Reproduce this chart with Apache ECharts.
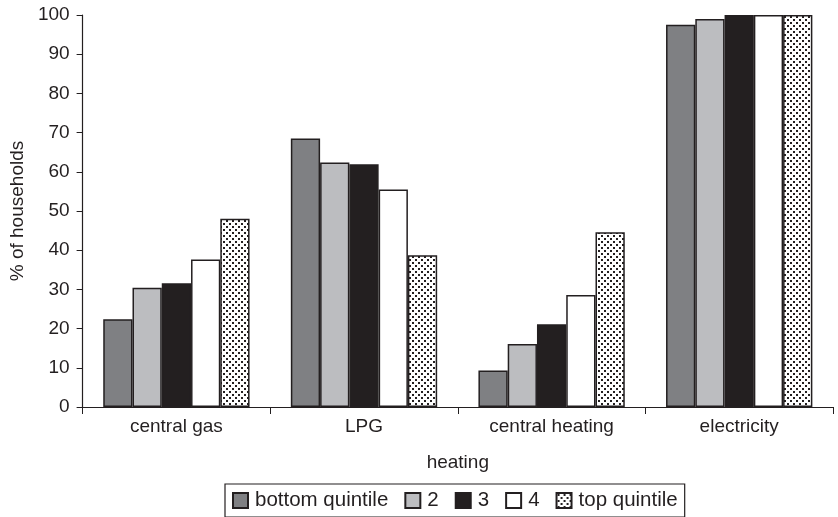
<!DOCTYPE html>
<html><head><meta charset="utf-8">
<script src="https://cdn.jsdelivr.net/npm/echarts@6/dist/echarts.min.js"></script>
<style>html,body{margin:0;padding:0;background:#fff}#c{width:838px;height:517px}</style>
</head><body><div id="c"></div>
<script>
const categories = ['central gas', 'LPG', 'central heating', 'electricity'];
const seriesNames = ['bottom quintile', '2', '3', '4', 'top quintile'];
const bottomQuintile = [22.4, 68.5, 9.3, 97.5];
const q2 = [30.4, 62.4, 16.1, 99];
const q3 = [31.6, 61.9, 21.1, 100];
const q4 = [37.6, 55.5, 28.6, 100];
const topQuintile = [48, 38.7, 44.6, 100];
const yTicks = [0, 10, 20, 30, 40, 50, 60, 70, 80, 90, 100];

const pat = document.createElement('canvas');
pat.width = 6; pat.height = 6;
const pc = pat.getContext('2d');
pc.fillStyle = '#fff'; pc.fillRect(0, 0, 6, 6);
pc.fillStyle = '#231f20';
pc.fillRect(1, 1, 2, 2);
pc.fillRect(4, 4, 2, 2);

const FONT = 'Liberation Sans';
const border = '#231f20';
const colors = ['#7f8083', '#bcbdc0', '#231f20', '#ffffff', {image: pat, repeat: 'repeat'}];
const values = [bottomQuintile, q2, q3, q4, topQuintile];

const chart = echarts.init(document.getElementById('c'));
chart.setOption({
  animation: false,
  textStyle: {fontFamily: FONT},
  grid: {left: 81, right: 5, top: 15, bottom: 110},
  legend: {
    data: seriesNames,
    left: 225, top: 484,
    orient: 'horizontal',
    borderColor: '#231f20', borderWidth: 1.2,
    padding: [6, 7, 6, 7],
    itemWidth: 15, itemHeight: 15, itemGap: 16,
    icon: 'rect',
    textStyle: {fontFamily: FONT, fontSize: 20.5, color: '#231f20', padding: [0, 0, 0, 2]}
  },
  xAxis: {
    type: 'category',
    data: categories,
    name: 'heating', nameLocation: 'middle', nameGap: 46,
    nameTextStyle: {fontSize: 19, color: '#231f20', fontFamily: FONT},
    axisLine: {lineStyle: {color: '#231f20', width: 1.2}},
    axisTick: {show: true, length: 7, lineStyle: {color: '#231f20'}},
    axisLabel: {fontSize: 19, color: '#231f20', margin: 10, fontFamily: FONT}
  },
  yAxis: {
    type: 'value', min: 0, max: 100, interval: 10,
    name: '% of households', nameLocation: 'middle', nameGap: 52, nameRotate: 90,
    nameTextStyle: {fontSize: 19, color: '#231f20', fontFamily: FONT},
    axisLine: {show: true, lineStyle: {color: '#231f20', width: 1.2}},
    axisTick: {show: true, length: 6, lineStyle: {color: '#231f20'}},
    axisLabel: {fontSize: 19, color: '#231f20', margin: 13, fontFamily: FONT,
      formatter: v => yTicks.includes(v) ? String(v) : ''},
    splitLine: {show: false}
  },
  series: seriesNames.map((n, i) => ({
    name: n, type: 'bar', data: values[i],
    barGap: '0%', barCategoryGap: '22%',
    itemStyle: {color: colors[i], borderColor: border, borderWidth: 1.5}
  }))
});
</script></body></html>
